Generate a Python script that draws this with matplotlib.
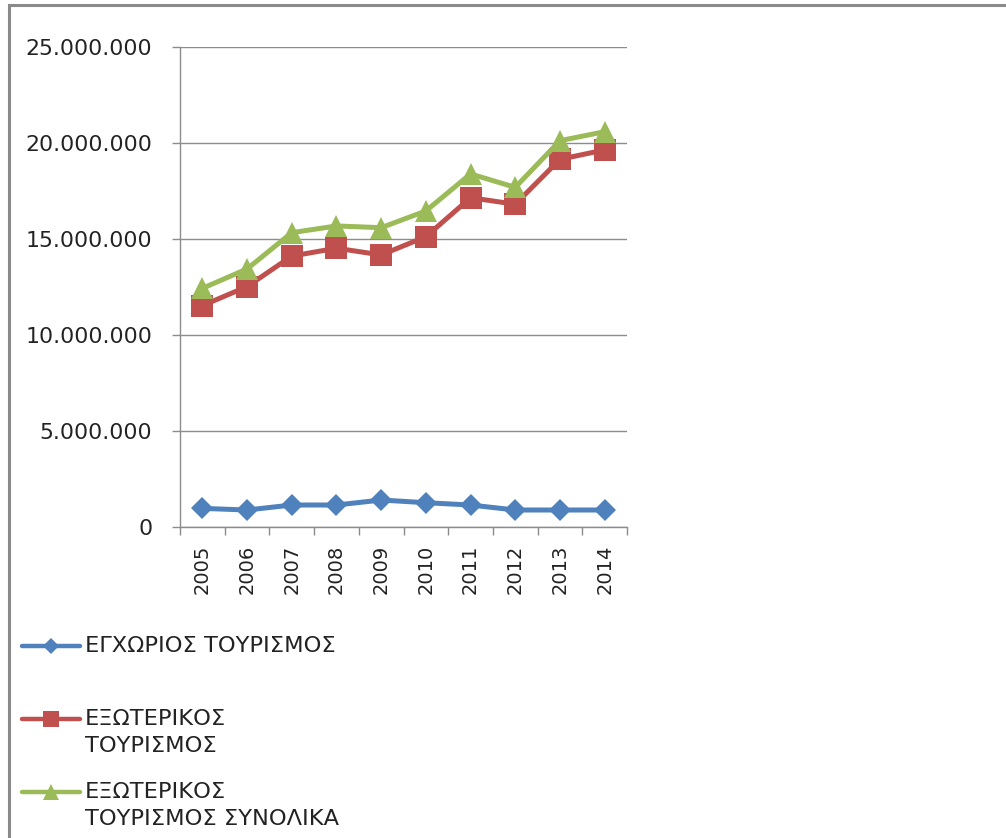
import matplotlib
matplotlib.use('Agg')
import matplotlib.pyplot as plt
from matplotlib.ticker import FuncFormatter, FixedLocator

# tourism arrivals per year
years = ['2005', '2006', '2007', '2008', '2009',
         '2010', '2011', '2012', '2013', '2014']
domestic = [970000, 885000, 1145000, 1145000, 1405000,
            1265000, 1145000, 885000, 885000, 885000]
foreign = [11530000, 12520000, 14110000, 14520000, 14170000,
           15120000, 17150000, 16810000, 19150000, 19640000]
foreign_total = [12430000, 13440000, 15330000, 15680000, 15590000,
                 16460000, 18390000, 17690000, 20120000, 20590000]

labels = ['ΕΓΧΩΡΙΟΣ ΤΟΥΡΙΣΜΟΣ',
          'ΕΞΩΤΕΡΙΚΟΣ\nΤΟΥΡΙΣΜΟΣ',
          'ΕΞΩΤΕΡΙΚΟΣ\nΤΟΥΡΙΣΜΟΣ ΣΥΝΟΛΙΚΑ']
colors = ['#4F81BD', '#C0504D', '#9BBB59']
markers = ['D', 's', '^']
msizes = [11.5, 15.5, 16]
grid_col = '#8c8c8c'

W, H = 1006, 838
fig = plt.figure(figsize=(W / 100, H / 100), dpi=100)
plt.rcParams['font.family'] = ['DejaVu Sans']

# plot area
ax = fig.add_axes([180 / W, (H - 527) / H, 447 / W, 480 / H])
x = list(range(len(years)))
for vals, c, m, ms in zip([domestic, foreign, foreign_total], colors, markers, msizes):
    ax.plot(x, vals, color=c, lw=3.6, marker=m, markersize=ms,
            markeredgewidth=0, solid_joinstyle='round', clip_on=False, zorder=3)

ax.set_xlim(-0.5, len(years) - 0.5)
ax.set_ylim(0, 25000000)
ax.yaxis.set_major_locator(FixedLocator(range(0, 25000001, 5000000)))
ax.yaxis.set_major_formatter(FuncFormatter(lambda v, p: f'{int(v):,}'.replace(',', '.')))
ax.yaxis.grid(True, color=grid_col, lw=1.0)
ax.set_axisbelow(True)
for s in ['top', 'right']:
    ax.spines[s].set_visible(False)
for s in ['left', 'bottom']:
    ax.spines[s].set_color(grid_col)
    ax.spines[s].set_linewidth(1.0)
ax.tick_params(axis='y', direction='out', length=6, width=1.0, color=grid_col,
               pad=14, labelsize=15.8, labelcolor='#222222')

# category labels in the middle, tick marks between categories
ax.set_xticks(x)
ax.set_xticklabels(years, rotation=90, fontsize=14, color='#222222')
ax.tick_params(axis='x', which='major', length=0, pad=13)
ax.set_xticks([i - 0.5 for i in range(len(years) + 1)], minor=True)
ax.tick_params(axis='x', which='minor', direction='out', length=6, width=1.0,
               color=grid_col)

# overlay in pixel units for the frame and the legend
ov = fig.add_axes([0, 0, 1, 1], zorder=5)
ov.set_xlim(0, W)
ov.set_ylim(H, 0)
ov.axis('off')
ov.patch.set_alpha(0)
ov.plot([9, 9, W], [H, 5, 5], color='#8a8a8a', lw=2.2, solid_joinstyle='miter')

leg_y = [646, 719, 792]
for lab, c, m, ms, y in zip(labels, colors, markers, msizes, leg_y):
    ov.plot([22, 80], [y, y], color=c, lw=3.2, solid_capstyle='round')
    ov.plot([51], [y], color=c, marker=m, markersize=ms * 0.72, markeredgewidth=0)
    for k, line in enumerate(lab.split('\n')):
        ov.text(85, y + 27 * k, line, fontsize=16.2, va='center', ha='left',
                color='#222222')

fig.savefig('out.png', dpi=100)
